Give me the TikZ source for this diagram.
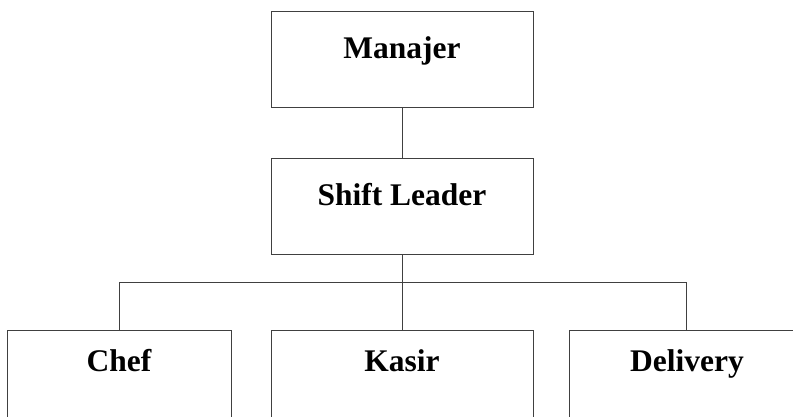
\documentclass[tikz,border=0pt]{standalone}
\usepackage{fontspec}
\setmainfont{Liberation Serif}
\usetikzlibrary{positioning}
\usetikzlibrary{calc}

\begin{document}
\begin{tikzpicture}[x=1pt, y=-1pt, node distance=40pt, semithick]
            \tikzset{
                jabatan/.style={draw=black!75, line width=0.9pt, rectangle, inner sep=0pt,
                    minimum width=262pt, text height=47pt, text depth=49pt,
                    font=\bfseries\fontsize{31.5}{36}\selectfont},
                staf/.style={jabatan, text height=41pt, text depth=60pt},
                garis/.style={draw=black!75, line width=0.9pt}
            }
            \useasboundingbox (0,0) rectangle (793,417);
            \clip (0,0) rectangle (793,417);

            \node[jabatan, anchor=north] (manajer) at (402,11) {Manajer};
            \node[jabatan] (shift) [below=50pt of manajer] {Shift Leader};
            \node[staf] (kasir) [below=75pt of shift] {Kasir};
            \node[staf, minimum width=224pt] (chef) [left=39pt of kasir] {Chef};
            \node[staf, minimum width=234pt] (delivery) [right=36pt of kasir] {Delivery};

            \coordinate (cabang) at ($(shift.south)+(0,28)$);

            \path[garis] (manajer) -- (shift)
                (shift.south) -- (cabang)
                (cabang) -- (kasir.north)
                (chef.north) |- (cabang)
                (delivery.north) |- (cabang)
            ;
        \end{tikzpicture}
\end{document}
